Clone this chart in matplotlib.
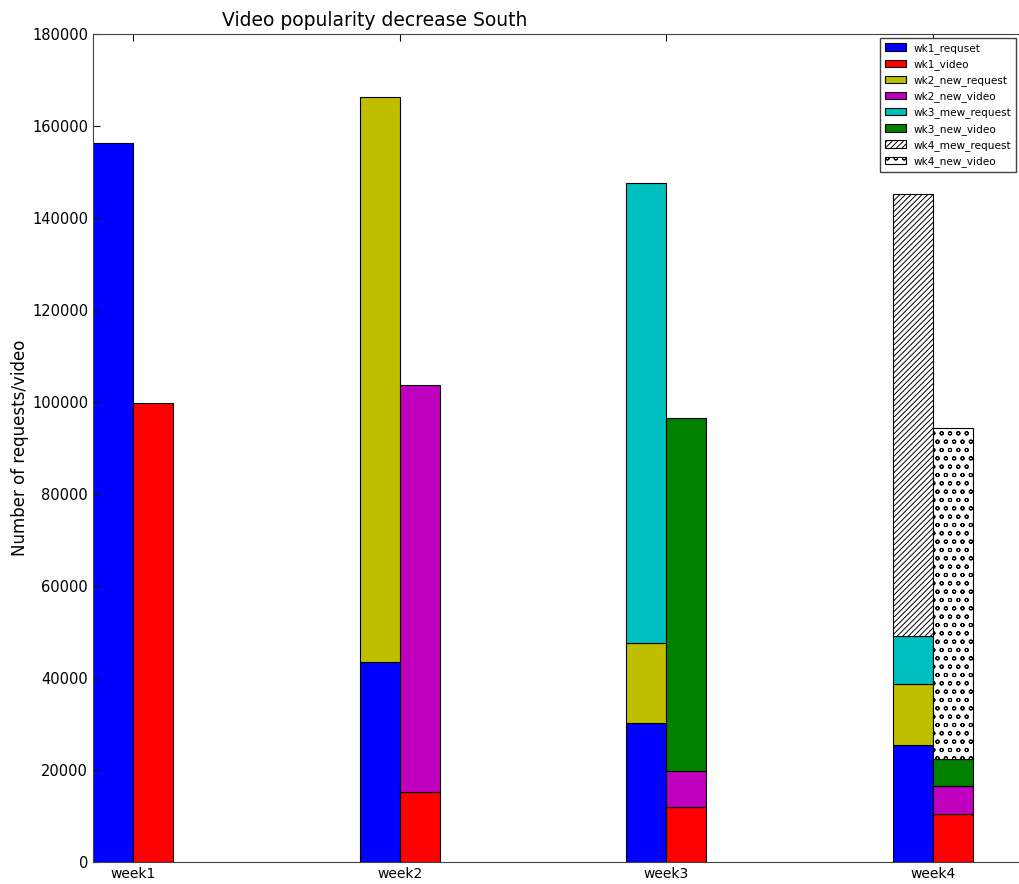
import numpy as np
import matplotlib
matplotlib.use("Agg")
import matplotlib.pyplot as plt

plt.rcParams["hatch.linewidth"] = 0.7
plt.rcParams["xtick.direction"] = "in"
plt.rcParams["ytick.direction"] = "in"

weeks = ["week1", "week2", "week3", "week4"]

# stacked segments for the request column (left bar of each week)
wk1_requset = [156300, 43500, 30200, 25400]
wk2_new_request = [0, 122800, 17400, 13300]
wk3_mew_request = [0, 0, 100000, 10400]
wk4_mew_request = [0, 0, 0, 96100]

# stacked segments for the video column (right bar of each week)
wk1_video = [99800, 15200, 12000, 10400]
wk2_new_video = [0, 88500, 7800, 6100]
wk3_new_video = [0, 0, 76700, 5900]
wk4_new_video = [0, 0, 0, 72000]

req_series = [
    ("wk1_requset", wk1_requset, "b", None),
    ("wk2_new_request", wk2_new_request, "y", None),
    ("wk3_mew_request", wk3_mew_request, "c", None),
    ("wk4_mew_request", wk4_mew_request, "w", "//////"),
]
vid_series = [
    ("wk1_video", wk1_video, "r", None),
    ("wk2_new_video", wk2_new_video, "m", None),
    ("wk3_new_video", wk3_new_video, "g", None),
    ("wk4_new_video", wk4_new_video, "w", "oo"),
]

W = 0.15
x = np.arange(len(weeks))

fig = plt.figure(figsize=(10.19, 8.84), dpi=100)
ax = fig.add_axes([93 / 1019, 22 / 884, 973 / 1019, 828 / 884])


def draw_stack(series, offset):
    bottom = np.zeros(len(weeks))
    handles = {}
    for name, vals, color, hatch in series:
        vals = np.asarray(vals, dtype=float)
        keep = vals > 0
        bars = ax.bar(x[keep] + offset, vals[keep], width=W, bottom=bottom[keep],
                      align="edge", color=color, edgecolor="k", linewidth=0.8,
                      hatch=hatch, label=name)
        handles[name] = bars
        bottom += vals
    return handles


h_req = draw_stack(req_series, -W)
h_vid = draw_stack(vid_series, 0.0)

ax.set_xlim(-W, 3.5)
ax.set_ylim(0, 180000)
ax.set_yticks(np.arange(0, 180001, 20000))
ax.set_xticks(x)
ax.set_xticklabels(weeks, fontsize=10)
ax.tick_params(axis="y", labelsize=10.5)
ax.tick_params(top=True, right=False, length=5, width=0.8)
ax.set_ylabel("Number of requests/video", fontsize=12)
ax.yaxis.set_label_coords(-0.066, 0.5)
for s in ax.spines.values():
    s.set_color("#444444")

fig.text(375 / 1019, 1 - 20 / 884, "Video popularity decrease South",
         ha="center", va="center", fontsize=13.5)

order = ["wk1_requset", "wk1_video", "wk2_new_request", "wk2_new_video",
         "wk3_mew_request", "wk3_new_video", "wk4_mew_request", "wk4_new_video"]
allh = {**h_req, **h_vid}
leg = ax.legend([allh[k] for k in order], order, loc="upper left",
                bbox_to_anchor=(880 / 1019, 1 - 38 / 884),
                bbox_transform=fig.transFigure, fontsize=7.6,
                fancybox=False, framealpha=1, borderpad=0.45,
                labelspacing=0.5, handlelength=2.0, handletextpad=0.7,
                borderaxespad=0)
leg.get_frame().set_edgecolor("#444444")

fig.savefig("out.png", dpi=100)
